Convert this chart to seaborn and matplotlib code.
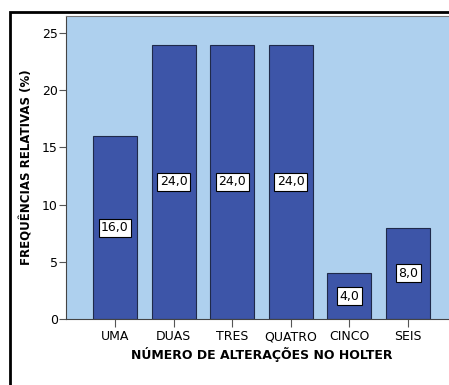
import matplotlib
matplotlib.use("Agg")
import matplotlib.pyplot as plt
import seaborn as sns
import pandas as pd
from matplotlib.patches import Rectangle

categories = ["UMA", "DUAS", "TRES", "QUATRO", "CINCO", "SEIS"]
values = [16.0, 24.0, 24.0, 24.0, 4.0, 8.0]
value_labels = ["16,0", "24,0", "24,0", "24,0", "4,0", "8,0"]
yticks = [0, 5, 10, 15, 20, 25]

sns.set_theme(style="white")
plt.rcParams['font.family'] = ['DejaVu Sans']
plt.rcParams['text.color'] = 'black'
plt.rcParams['axes.labelcolor'] = 'black'
plt.rcParams['xtick.color'] = 'black'
plt.rcParams['ytick.color'] = 'black'

df = pd.DataFrame({"cat": categories, "val": values})

fig = plt.figure(figsize=(4.49, 3.85), dpi=100)
fig.patch.set_facecolor("white")
ax = fig.add_axes([66/449, 1-319/385, (457-66)/449, (319-16)/385])
ax.set_facecolor("#AED0EE")

sns.barplot(data=df, x="cat", y="val", ax=ax, color="#3D55A8", width=0.75,
            edgecolor="#1F2A4A", linewidth=0.8, saturation=1)

for i, (v, lab) in enumerate(zip(values, value_labels)):
    ax.text(i, v/2, lab, ha="center", va="center", fontsize=9, color="black",
            bbox=dict(boxstyle="square,pad=0.2", fc="white", ec="black", lw=0.8))

ax.set_xlim(-0.836, 5.836)
ax.set_ylim(0, 26.5)
ax.set_yticks(yticks)
ax.set_yticklabels([str(t) for t in yticks], fontsize=9)
ax.tick_params(axis="x", labelsize=9, length=6, width=0.8, color="#555555", labelcolor="black", direction="out", bottom=True, pad=2)
ax.tick_params(axis="y", labelsize=9, length=5, width=0.8, color="#555555", labelcolor="black", direction="out", left=True, pad=1)
for s in ax.spines.values():
    s.set_color("#777777")
    s.set_linewidth(0.8)
ax.spines["left"].set_color("#444444")
ax.spines["bottom"].set_color("#444444")

ax.set_xlabel("NÚMERO DE ALTERAÇÕES NO HOLTER", fontsize=9, fontweight="bold", labelpad=3, color="black")
ax.set_ylabel("FREQUÊNCIAS RELATIVAS (%)", fontsize=8.5, fontweight="bold", labelpad=6, color="black")

frame = Rectangle((10/449, -0.1), 1.2, 1-12/385+0.1, transform=fig.transFigure,
                  fill=False, ec="black", lw=2, clip_on=False)
fig.patches.append(frame)

fig.savefig("out.png", dpi=100)
